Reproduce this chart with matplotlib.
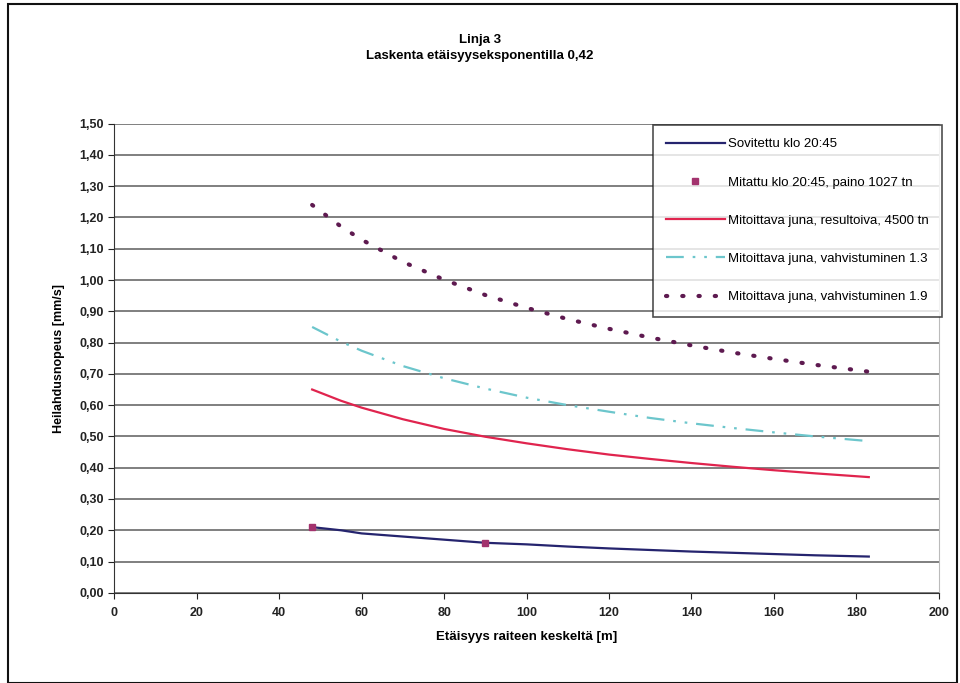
import matplotlib
matplotlib.use("Agg")
import matplotlib.pyplot as plt
from matplotlib.ticker import MultipleLocator, FuncFormatter
from matplotlib.patches import Rectangle

plt.rcParams['font.family'] = ['Liberation Sans', 'DejaVu Sans']

title = "Linja 3\nLaskenta etäisyyseksponentilla 0,42"
xlabel = "Etäisyys raiteen keskeltä [m]"
ylabel = "Heilahdusnopeus [mm/s]"

x = [48, 55, 60, 70, 80, 90, 100, 110, 120, 130, 140, 150, 160, 170, 183]
fit_2045 = [0.21, 0.20, 0.19, 0.18, 0.17, 0.16, 0.155, 0.148, 0.142, 0.137, 0.132, 0.128, 0.124, 0.120, 0.116]
resultoiva = [0.65, 0.614, 0.592, 0.555, 0.524, 0.499, 0.478, 0.459, 0.442, 0.428, 0.415, 0.403, 0.392, 0.382, 0.37]
vahv_13 = [0.85, 0.803, 0.774, 0.725, 0.686, 0.653, 0.624, 0.600, 0.579, 0.559, 0.542, 0.527, 0.513, 0.50, 0.485]
vahv_19 = [1.24, 1.171, 1.129, 1.058, 1.001, 0.952, 0.911, 0.875, 0.844, 0.816, 0.791, 0.768, 0.748, 0.729, 0.707]
meas_x = [48, 90]
meas_y = [0.21, 0.16]

labels = ["Sovitettu klo 20:45",
          "Mitattu klo 20:45, paino 1027 tn",
          "Mitoittava juna, resultoiva, 4500 tn",
          "Mitoittava juna, vahvistuminen 1.3",
          "Mitoittava juna, vahvistuminen 1.9"]

fig = plt.figure(figsize=(9.6, 6.83), dpi=100)
ax = fig.add_axes([0.119, 0.132, 0.859, 0.687])

ax.plot(x, fit_2045, color="#25246e", lw=1.6, label=labels[0], zorder=4)
ax.plot(meas_x, meas_y, ls="none", marker="s", ms=5, color="#a3336e", label=labels[1], zorder=5)
ax.plot(x, resultoiva, color="#e0244e", lw=1.6, label=labels[2], zorder=4)
ax.plot(x, vahv_13, color="#6cc6cc", lw=1.6, ls=(0, (8, 4, 1.2, 4, 1.2, 4)), label=labels[3], zorder=4)
ax.plot(x, vahv_19, color="#5e1a50", lw=3, ls=(0, (0.3, 3.6)), dash_capstyle="round", label=labels[4], zorder=4)

ax.set_xlim(0, 200)
ax.set_ylim(0, 1.5)
ax.xaxis.set_major_locator(MultipleLocator(20))
ax.yaxis.set_major_locator(MultipleLocator(0.1))
ax.yaxis.set_major_formatter(FuncFormatter(lambda v, p: f"{v:.2f}".replace(".", ",")))
ax.grid(axis="y", color="#6a6a6a", lw=1.2)
ax.set_axisbelow(True)
ax.spines["top"].set_visible(False)
ax.spines["right"].set_color("#bbbbbb")
ax.spines["right"].set_linewidth(0.8)
ax.spines["left"].set_color("#333333")
ax.spines["bottom"].set_color("#333333")
ax.tick_params(axis="both", direction="out", length=4, labelsize=9, colors="#222222")
ax.tick_params(axis="x", pad=6)
ax.tick_params(axis="y", right=False)
for lab in ax.get_xticklabels() + ax.get_yticklabels():
    lab.set_fontweight("bold")

ax.set_xlabel(xlabel, fontsize=9.5, fontweight="bold", labelpad=9)
ax.set_ylabel(ylabel, fontsize=9, fontweight="bold", labelpad=10)
fig.text(0.5, 0.930, title, ha="center", va="center", fontsize=9.5, fontweight="bold", linespacing=1.45)

leg = ax.legend(loc="upper right", bbox_to_anchor=(0.981, 0.817), bbox_transform=fig.transFigure,
                fontsize=9.5, frameon=True, fancybox=False, edgecolor="#222222",
                labelspacing=1.97, handlelength=4.4, borderpad=1.0, handletextpad=0.25,
                borderaxespad=0)
leg.get_frame().set_linewidth(1.2)

fig.patches.append(Rectangle((0.008, 0.0), 0.989, 0.994, transform=fig.transFigure,
                             fill=False, edgecolor="#111111", lw=1.5))

fig.savefig("out.png", dpi=100)
